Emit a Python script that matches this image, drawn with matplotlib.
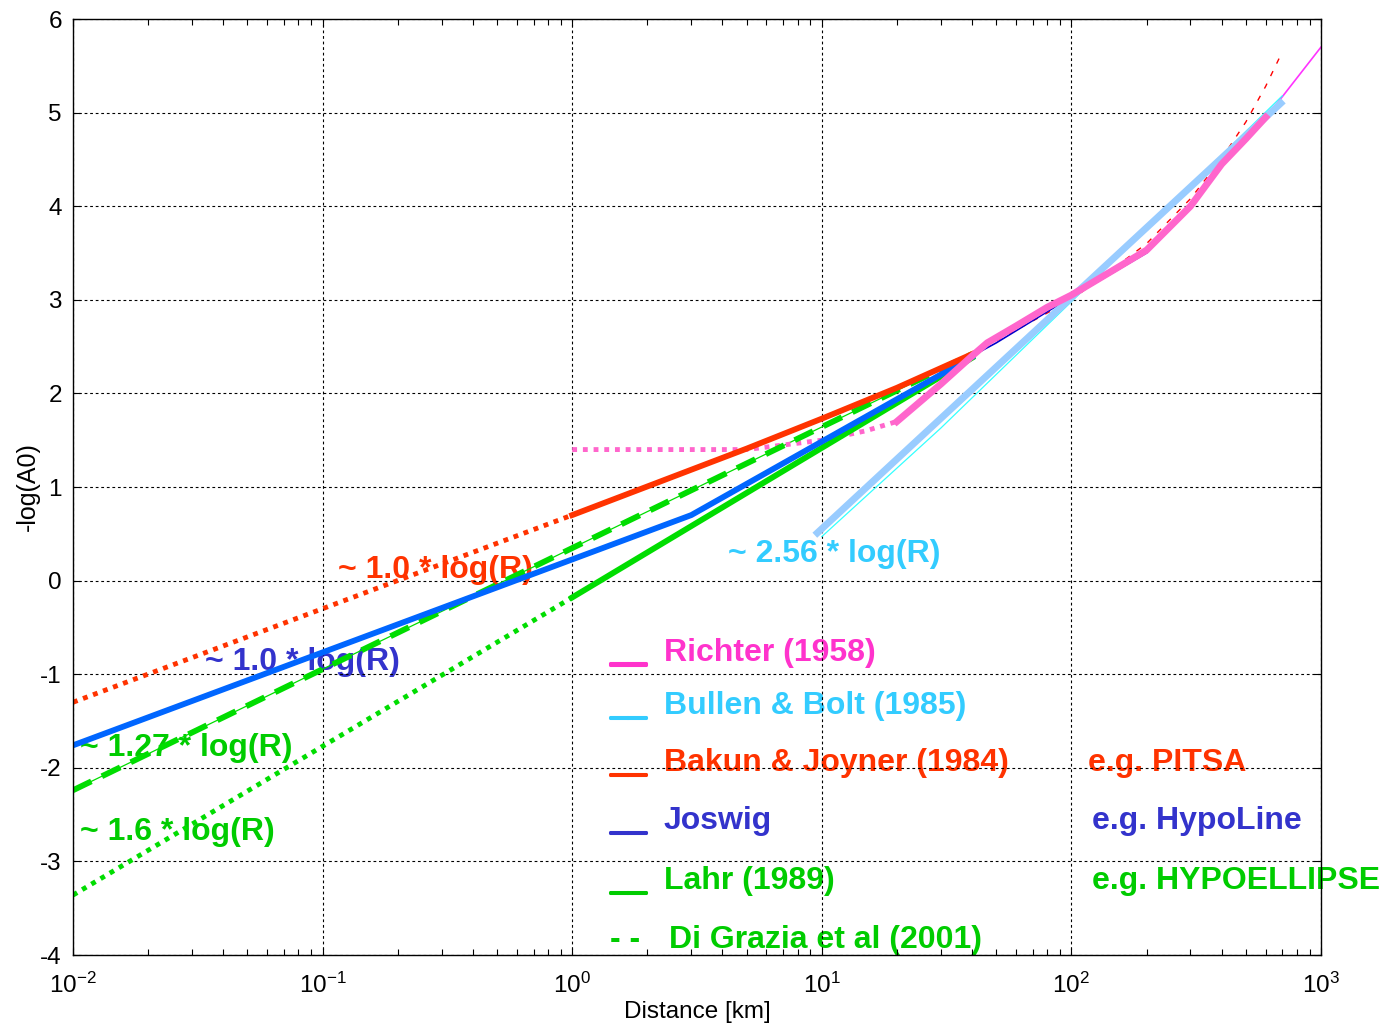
import numpy as np
import matplotlib
matplotlib.use("Agg")
import matplotlib.pyplot as plt
import matplotlib.patheffects as pe

plt.rcParams['font.family'] = ['Liberation Sans', 'DejaVu Sans']
plt.rcParams['axes.unicode_minus'] = False

# distances [km] and -log(A0) values
richter_near_r = [1, 5, 10, 15, 20]
richter_near_v = [1.4, 1.4, 1.5, 1.6, 1.7]
richter_r = [20, 30, 40, 46, 60, 80, 100, 150, 200, 300, 400, 500, 600]
richter_v = [1.7, 2.1, 2.4, 2.54, 2.72, 2.92, 3.05, 3.33, 3.53, 4.0, 4.45, 4.72, 4.95]
richter_far_r = [600, 700, 1000]
richter_far_v = [4.95, 5.17, 5.7]

bb_r = [9.6, 690]
bb_v = [0.51, 5.10]
bb_thin_r = [10, 30, 100, 700]
bb_thin_v = [0.47, 1.63, 2.98, 5.18]

bj_extrap_r = [0.01, 1]
bj_extrap_v = [-1.30, 0.70]
bj_r = [1, 5, 10, 20, 40]
bj_v = [0.70, 1.41, 1.73, 2.06, 2.42]
bj_far_r = [40, 100, 200, 300, 400, 500, 600, 700]
bj_far_v = [2.42, 3.0, 3.6, 4.08, 4.51, 4.90, 5.28, 5.65]

jos_r = [0.01, 3, 40]
jos_v = [-1.76, 0.70, 2.39]
jos_far_r = [40, 50, 100, 200]
jos_far_v = [2.40, 2.54, 3.03, 3.50]

lahr_extrap_r = [0.01, 1]
lahr_extrap_v = [-3.36, -0.18]
lahr_r = [1, 40]
lahr_v = [-0.18, 2.38]

dg_r = [0.01, 40]
dg_v = [-2.24, 2.42]

pink = '#ff66cc'
pink_txt = '#ff33cc'
lblue = '#99ccff'
cyan = '#33ccff'
red = '#ff3300'
blue = '#0066ff'
dblue = '#3333cc'
green = '#00dd00'
green_txt = '#00cc00'

fig = plt.figure(figsize=(13.85, 10.32), dpi=100)
ax = fig.add_axes([73 / 1385, 77 / 1032, 1248 / 1385, 936 / 1032])

dot = (0, (1, 1.2))
lw = 4.2

# thin companion lines
ax.plot(bj_far_r, bj_far_v, color='red', lw=1, ls=(0, (4, 6)))
ax.plot(jos_far_r, jos_far_v, color='#0000cc', lw=1.2)
ax.plot(dg_r, dg_v, color=green, lw=0.9)
ax.plot(richter_far_r, richter_far_v, color='#ff33ff', lw=1.2)
ax.plot(bb_thin_r, bb_thin_v, color='#33ffff', lw=0.9)

# extrapolations
ax.plot(bj_extrap_r, bj_extrap_v, color=red, lw=3.5, ls=dot, dash_capstyle='butt')
ax.plot(lahr_extrap_r, lahr_extrap_v, color=green, lw=3.5, ls=dot, dash_capstyle='butt')
ax.plot(richter_near_r, richter_near_v, color=pink, lw=3.5, ls=dot, dash_capstyle='butt')

# main curves
ax.plot(lahr_r, lahr_v, color=green, lw=lw)
ax.plot(dg_r, dg_v, color=green, lw=lw, ls=(0, (3.5, 2)), dash_capstyle='butt')
ax.plot(jos_r, jos_v, color=blue, lw=lw)
ax.plot(bj_r, bj_v, color=red, lw=lw)
ax.plot(bb_r, bb_v, color=lblue, lw=5)
ax.plot(richter_r, richter_v, color=pink, lw=5)

ax.set_xscale('log')
ax.set_xlim(1e-2, 1e3)
ax.set_ylim(-4, 6)
ax.set_yticks(np.arange(-4, 7, 1))
ax.set_yticklabels([str(v) for v in range(-4, 7)])
xt = [1e-2, 1e-1, 1e0, 1e1, 1e2, 1e3]
ax.set_xticks(xt)
ax.set_xticklabels([r'$\mathregular{10^{%d}}$' % e for e in range(-2, 4)])

ax.grid(True, which='major', color='k', ls=(0, (2.5, 2.5)), lw=0.8)
ax.tick_params(which='both', direction='in', top=True, right=True, labelsize=17.5, width=0.8)
ax.tick_params(which='major', length=5, pad=8)
ax.tick_params(axis='x', which='major', pad=13)
ax.tick_params(which='minor', length=4)
ax.tick_params(axis='y', which='minor', left=False, right=False)
for s in ax.spines.values():
    s.set_linewidth(1)

ax.set_xlabel('Distance [km]', fontsize=17.5, labelpad=2)
ax.set_ylabel('-log(A0)', fontsize=18, labelpad=0)

# slope annotations
fs = 23
ann = dict(fontsize=fs, fontweight='bold', va='center', ha='left', zorder=1)
ax.text(0.1153, 0.11, '~ 1.0 * log(R)', color=red, **ann)
ax.text(0.0338, -0.87, '~ 1.0 * log(R)', color=dblue, **ann)
ax.text(0.01066, -1.79, '~ 1.27 * log(R)', color=green_txt, **ann)
ax.text(0.01066, -2.69, '~ 1.6 * log(R)', color=green_txt, **ann)
ax.text(4.21, 0.28, '~ 2.56 * log(R)', color=cyan, **ann)

# hand-made legend
leg_names = ['Richter (1958)', 'Bullen & Bolt (1985)', 'Bakun & Joyner (1984)',
             'Joswig', 'Lahr (1989)', 'Di Grazia et al (2001)']
leg_colors = [pink_txt, cyan, red, dblue, green_txt, green_txt]
leg_marks = ['__', '__', '__', '__', '__', '- -']
leg_y = [-0.77, -1.34, -1.95, -2.57, -3.21, -3.84]
leg_notes = ['', '', 'e.g. PITSA', 'e.g. HypoLine', 'e.g. HYPOELLIPSE', '']
note_x = [121, 121, 116.6, 121, 121, 121]
for name, c, m, y, note, nx in zip(leg_names, leg_colors, leg_marks, leg_y, leg_notes, note_x):
    tx = 2.45 if m == '- -' else 2.33
    t = ax.text(1.416, y, m, color=c, **ann)
    if m == '__':
        t.set_path_effects([pe.withStroke(linewidth=2.2, foreground=c)])
    ax.text(tx, y, name, color=c, **ann)
    if note:
        ax.text(nx, y, note, color=c, **ann)

fig.savefig('out.png', dpi=100)
